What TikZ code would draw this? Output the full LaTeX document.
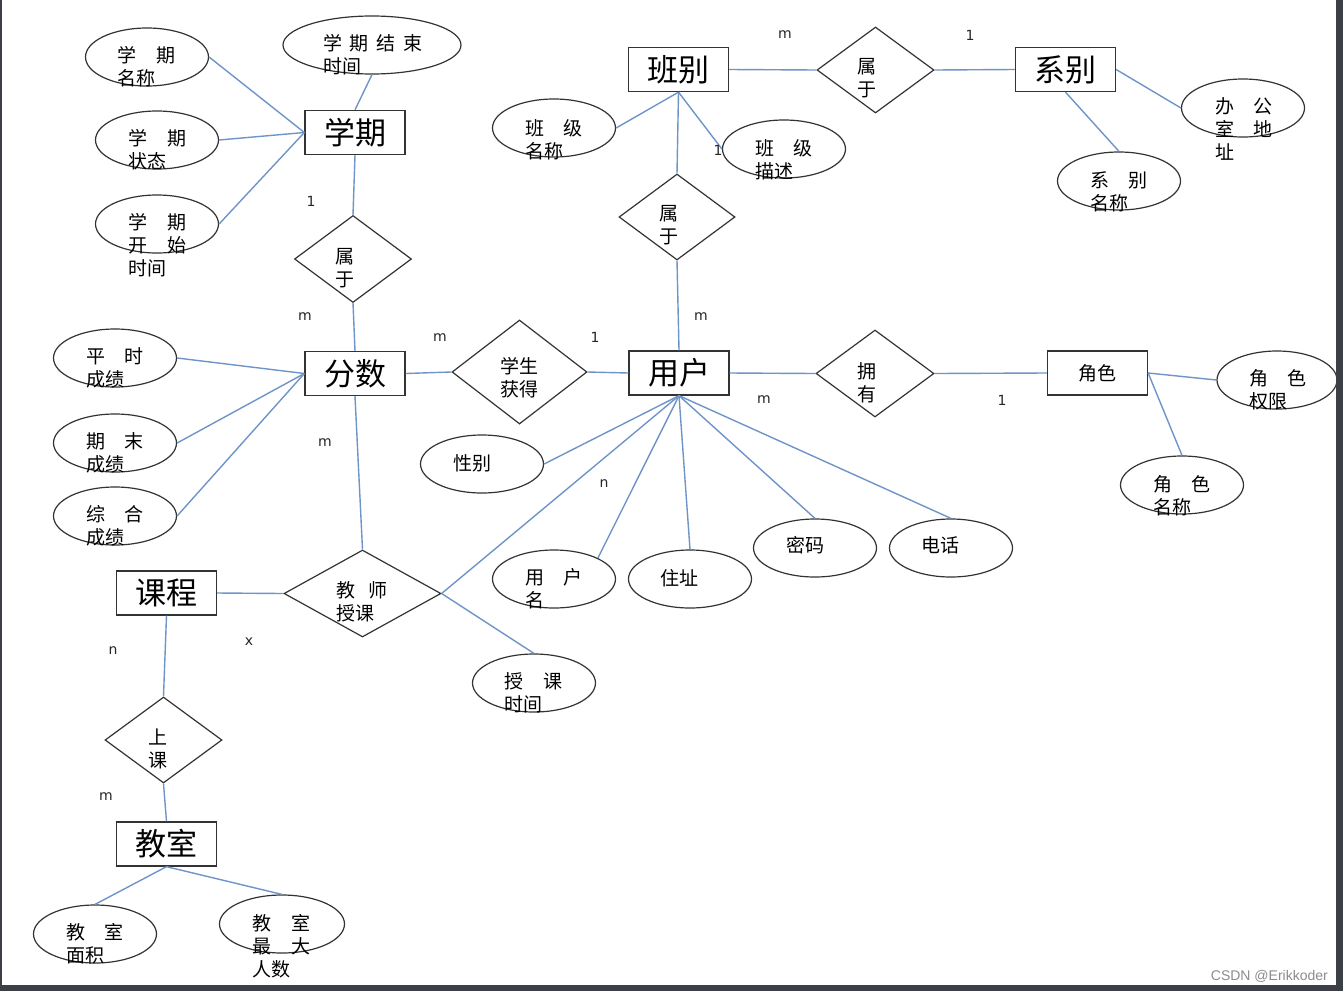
\documentclass[tikz,border=0pt]{standalone}
\usepackage{fontspec}
\setmainfont{Liberation Sans}
\newfontfamily\cjk{Noto Sans CJK SC}
\newfontfamily\lab{DejaVu Sans}
\usetikzlibrary{shapes.geometric}
\definecolor{lnblue}{HTML}{6F94C8}
\definecolor{shp}{HTML}{333333}
\definecolor{frm}{HTML}{3C3F46}
\tikzset{
 ent/.style={draw=shp, line width=1.3pt, rectangle, minimum width=100pt, minimum height=44pt, inner sep=0pt, font=\cjk\fontsize{31}{34}\selectfont},
 attr/.style={draw=shp, line width=1.2pt, ellipse, minimum width=123pt, minimum height=58pt, inner sep=0pt},
 rel/.style={draw=shp, line width=1.2pt, diamond, minimum width=117pt, minimum height=87pt, inner sep=0pt},
 atxt/.style={inner sep=0pt, anchor=north west, align=left, font=\cjk\fontsize{19}{23}\selectfont},
 rtxt/.style={inner sep=0pt, align=left, font=\cjk\fontsize{19}{23}\selectfont},
 card/.style={inner sep=0pt, font=\lab\fontsize{14}{14}\selectfont, text=black!85},
 conn/.style={draw=lnblue, line width=1.4pt},
}
\newcommand{\spx}[3]{\hbox to #1pt{#2\hfill #3}}
\begin{document}
\begin{tikzpicture}[x=1pt,y=-1pt]
\useasboundingbox[fill=white] (0,0) rectangle (1343,991);
% entities
\node[ent] (xq) at (355,132.5) {学期};
\node[ent] (bb) at (678.5,69.5) {班别};
\node[ent] (xb) at (1065.5,69.5) {系别};
\node[ent] (fs) at (355,373.5) {分数};
\node[ent] (yh) at (679,373) {用户};
\node[ent, font=\cjk\fontsize{19}{23}\selectfont] (jsr) at (1097.5,373) {角色};
\node[ent] (kc) at (166.5,593) {课程};
\node[ent] (jss) at (166.5,844) {教室};
% relationships
\node[rel] (sy1) at (353,259) {};
\node[rel, minimum height=86pt] (sy2) at (875.5,70) {};
\node[rel, minimum width=116pt, minimum height=86pt] (sy3) at (677,217) {};
\node[rel, minimum width=135pt, minimum height=104pt] (xshd) at (519.5,372) {};
\node[rel, minimum width=118pt] (yy) at (875,373.5) {};
\node[rel, minimum width=157pt] (jssk) at (362.5,593.5) {};
\node[rel, minimum height=86pt] (sk) at (163.5,740) {};
\node[rtxt] (tsy1) at (345,268) {属\\于};
\node[rtxt] (tsy2) at (867,78) {属\\于};
\node[rtxt] (tsy3) at (669,225) {属\\于};
\node[rtxt] (txshd) at (519,378) {学生\\获得};
\node[rtxt] (tyy) at (867,383) {拥\\有};
\node[atxt] (tjssk) at (336,581) {\spx{51}{教}{师}\\授课};
\node[rtxt] (tsk) at (158,749) {上\\课};
% attributes
\node[attr] (xqmc) at (147,57) {};
\node[atxt] (txqmc) at (117,46) {\spx{58}{学}{期}\\名称};
\node[attr, minimum width=178pt] (xqjs) at (372,45) {};
\node[atxt] (txqjs) at (323,34) {\hbox to 99pt{学\hfill 期\hfill 结\hfill 束}\\时间};
\node[attr] (xqzt) at (157,140) {};
\node[atxt] (txqzt) at (128,129) {\spx{58}{学}{期}\\状态};
\node[attr] (xqks) at (157,224) {};
\node[atxt] (txqks) at (128,213) {\spx{58}{学}{期}\\\spx{58}{开}{始}\\时间};
\node[attr] (bjmc) at (554,128) {};
\node[atxt] (tbjmc) at (525,119) {\spx{57}{班}{级}\\名称};
\node[attr] (bjms) at (784,149) {};
\node[atxt] (tbjms) at (755,139) {\spx{57}{班}{级}\\描述};
\node[attr] (bgdz) at (1243,108) {};
\node[atxt] (tbgdz) at (1215,97) {\spx{57}{办}{公}\\\spx{57}{室}{地}\\址};
\node[attr] (xbmc) at (1119,181) {};
\node[atxt] (txbmc) at (1090,171) {\spx{57}{系}{别}\\名称};
\node[attr] (pscj) at (115,358) {};
\node[atxt] (tpscj) at (86,347) {\spx{57}{平}{时}\\成绩};
\node[attr] (qmcj) at (115,443) {};
\node[atxt] (tqmcj) at (86,432) {\spx{57}{期}{末}\\成绩};
\node[attr] (zhcj) at (115,516) {};
\node[atxt] (tzhcj) at (86,505) {\spx{57}{综}{合}\\成绩};
\node[attr] (xbie) at (482,464) {};
\node[atxt] (txbie) at (453,454) {性别};
\node[attr] (yhm) at (554,579) {};
\node[atxt] (tyhm) at (525,568) {\spx{57}{用}{户}\\名};
\node[attr] (zz) at (690,579) {};
\node[atxt] (tzz) at (660,569) {住址};
\node[attr] (mm) at (815,548) {};
\node[atxt] (tmm) at (786,536) {密码};
\node[attr] (dh) at (951,548) {};
\node[atxt] (tdh) at (921,536) {电话};
\node[attr, minimum width=120pt] (jsqx) at (1277,380) {};
\node[atxt] (tjsqx) at (1249,369) {\spx{57}{角}{色}\\权限};
\node[attr] (jsmc) at (1182,485) {};
\node[atxt] (tjsmc) at (1153,475) {\spx{57}{角}{色}\\名称};
\node[attr] (skt) at (534,683) {};
\node[atxt] (tskt) at (504,672) {\spx{58}{授}{课}\\时间};
\node[attr] (jsmj) at (95,934) {};
\node[atxt] (tjsmj) at (66,923) {\spx{57}{教}{室}\\面积};
\node[attr, minimum width=125pt] (jszd) at (282,924) {};
\node[atxt] (tjszd) at (252,914) {\spx{58}{教}{室}\\\spx{58}{最}{大}\\人数};
% connectors
\draw[conn] (xqmc.east) -- (xq.west);
\draw[conn] (xqzt.east) -- (xq.west);
\draw[conn] (xqks.east) -- (xq.west);
\draw[conn] (xqjs.south) -- (xq.north);
\draw[conn] (xq.south) -- (sy1.north);
\draw[conn] (sy1.south) -- (fs.north);
\draw[conn] (pscj.east) -- (fs.west);
\draw[conn] (qmcj.east) -- (fs.west);
\draw[conn] (zhcj.east) -- (fs.west);
\draw[conn] (fs.east) -- (xshd.west);
\draw[conn] (xshd.east) -- (yh.west);
\draw[conn] (fs.south) -- (jssk.north);
\draw[conn] (kc.east) -- (jssk.west);
\draw[conn] (jssk.east) -- (yh.south);
\draw[conn] (jssk.east) -- (skt.north);
\draw[conn] (kc.south) -- (sk.north);
\draw[conn] (sk.south) -- (jss.north);
\draw[conn] (jss.south) -- (jsmj.north);
\draw[conn] (jss.south) -- (jszd.north);
\draw[conn] (bb.east) -- (sy2.west);
\draw[conn] (sy2.east) -- (xb.west);
\draw[conn] (xb.east) -- (bgdz.west);
\draw[conn] (xb.south) -- (xbmc.north);
\draw[conn] (bb.south) -- (bjmc.east);
\draw[conn] (bb.south) -- (bjms.west);
\draw[conn] (bb.south) -- (sy3.north);
\draw[conn] (sy3.south) -- (yh.north);
\draw[conn] (yh.east) -- (yy.west);
\draw[conn] (yy.east) -- (jsr.west);
\draw[conn] (jsr.east) -- (jsqx.west);
\draw[conn] (jsr.east) -- (jsmc.north);
\draw[conn] (yh.south) -- (xbie.east);
\draw[conn] (yh.south) -- (yhm.north east);
\draw[conn] (yh.south) -- (zz.north);
\draw[conn] (yh.south) -- (mm.north);
\draw[conn] (yh.south) -- (dh.north);
% cardinalities
\node[card] (c1) at (785,35) {m};
\node[card] (c2) at (970,35) {1};
\node[card] (c3) at (311,201) {1};
\node[card] (c4) at (305,317) {m};
\node[card] (c5) at (440,338) {m};
\node[card] (c6) at (595,337) {1};
\node[card] (c7) at (701,317) {m};
\node[card] (c8) at (764,400) {m};
\node[card] (c9) at (1002,400) {1};
\node[card] (c10) at (325,443) {m};
\node[card] (c11) at (604,484) {n};
\node[card] (c12) at (113,651) {n};
\node[card] (c13) at (249,642) {x};
\node[card] (c14) at (106,797) {m};
\node[card] (c15) at (718,150) {1};
% frame and watermark
\node[anchor=east, inner sep=0pt, font=\fontsize{14}{14}\selectfont, text=black!45] (wm) at (1328,976) {CSDN @Erikkoder};
\fill[frm] (0,0) rectangle (2,991);
\fill[frm] (1336,0) rectangle (1343,991);
\fill[frm] (0,985) rectangle (1343,991);
\end{tikzpicture}
\end{document}
